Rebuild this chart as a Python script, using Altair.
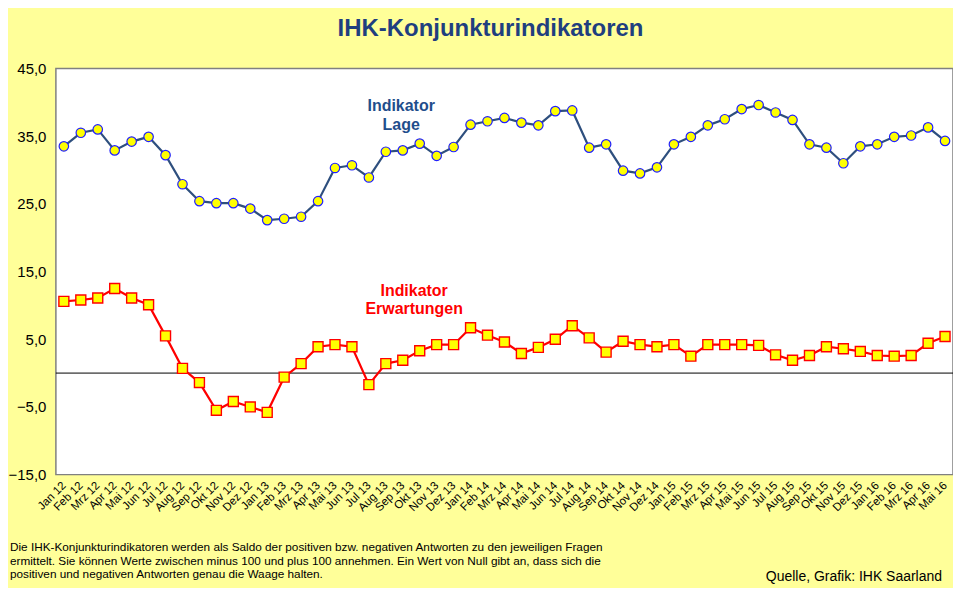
import altair as alt
import pandas as pd

months = ["Jan 12","Feb 12","Mrz 12","Apr 12","Mai 12","Jun 12","Jul 12","Aug 12","Sep 12","Okt 12","Nov 12","Dez 12",
          "Jan 13","Feb 13","Mrz 13","Apr 13","Mai 13","Jun 13","Jul 13","Aug 13","Sep 13","Okt 13","Nov 13","Dez 13",
          "Jan 14","Feb 14","Mrz 14","Apr 14","Mai 14","Jun 14","Jul 14","Aug 14","Sep 14","Okt 14","Nov 14","Dez 14",
          "Jan 15","Feb 15","Mrz 15","Apr 15","Mai 15","Jun 15","Jul 15","Aug 15","Sep 15","Okt 15","Nov 15","Dez 15",
          "Jan 16","Feb 16","Mrz 16","Apr 16","Mai 16"]

lage = [33.5, 35.5, 36.0, 32.9, 34.2, 34.9, 32.2, 27.9, 25.4, 25.1, 25.1, 24.3,
        22.6, 22.8, 23.1, 25.4, 30.3, 30.7, 28.9, 32.7, 32.9, 33.9, 32.1, 33.4,
        36.7, 37.2, 37.7, 37.0, 36.6, 38.7, 38.8, 33.3, 33.8, 29.9, 29.5, 30.4,
        33.8, 34.9, 36.6, 37.5, 39.0, 39.6, 38.5, 37.4, 33.8, 33.3, 31.0, 33.5,
        33.8, 34.9, 35.1, 36.3, 34.3]

erwartungen = [10.6, 10.8, 11.1, 12.5, 11.1, 10.1, 5.5, 0.7, -1.4, -5.5, -4.2, -5.0,
               -5.8, -0.6, 1.4, 3.9, 4.2, 3.9, -1.7, 1.4, 1.9, 3.3, 4.2, 4.2,
               6.7, 5.6, 4.6, 2.9, 3.8, 5.0, 7.0, 5.2, 3.1, 4.7, 4.2, 3.9,
               4.2, 2.5, 4.2, 4.2, 4.2, 4.1, 2.7, 1.9, 2.6, 3.9, 3.6, 3.2,
               2.6, 2.5, 2.6, 4.4, 5.4]

y_ticks = [-15, -5, 5, 15, 25, 35, 45]

title_text = "IHK-Konjunkturindikatoren"
lage_label = ["Indikator", "Lage"]
erw_label = ["Indikator", "Erwartungen"]
footnote = ["Die IHK-Konjunkturindikatoren werden als Saldo der positiven bzw. negativen Antworten zu den jeweiligen Fragen",
            "ermittelt. Sie können Werte zwischen minus 100 und plus 100 annehmen. Ein Wert von Null gibt an, dass sich die",
            "positiven und negativen Antworten genau die Waage halten."]
source_text = "Quelle, Grafik: IHK  Saarland"

FONT = "Liberation Sans"
df_lage = pd.DataFrame({"Monat": months, "Wert": lage})
df_erw = pd.DataFrame({"Monat": months, "Wert": erwartungen})

x_enc = alt.X("Monat:N", sort=months,
              scale=alt.Scale(type="point", padding=0.47),
              axis=alt.Axis(title=None, labelAngle=-45, labelAlign="right", labelBaseline="middle",
                            ticks=False, domain=False, labelFontSize=11.5, labelPadding=9,
                            labelOverlap=False, labelColor="black", labelFont=FONT))
y_enc = alt.Y("Wert:Q", scale=alt.Scale(domain=[-15, 45], nice=False, zero=False),
              axis=alt.Axis(title=None, values=y_ticks, grid=False, ticks=False, domain=False,
                            labelFontSize=15, labelPadding=10, labelColor="black", labelFont=FONT,
                            labelExpr="replace(format(datum.value, '.1f'), '.', ',')"))

zero = alt.Chart(pd.DataFrame({"Wert": [0]})).mark_rule(color="black", strokeWidth=1).encode(y=alt.Y("Wert:Q"))

lage_line = alt.Chart(df_lage).mark_line(color="#2E4F7E", strokeWidth=2.2).encode(x=x_enc, y=y_enc)
lage_pts = alt.Chart(df_lage).mark_point(shape="circle", filled=True, fill="#FFFF00", stroke="#1F1FFF",
                                         strokeWidth=1.2, size=90, opacity=1).encode(x=x_enc, y=y_enc)
erw_line = alt.Chart(df_erw).mark_line(color="#FF0000", strokeWidth=2.2).encode(x=x_enc, y=y_enc)
erw_pts = alt.Chart(df_erw).mark_square(fill="#FFFF00", stroke="#FF0000", strokeWidth=1.4,
                                        size=100, opacity=1).encode(x=x_enc, y=y_enc)


def text_layer(lines, x, y0, dy, size, color, bold=False, align="center"):
    d = pd.DataFrame({"t": lines, "i": list(range(len(lines)))})
    return alt.Chart(d).mark_text(font=FONT, fontSize=size, color=color,
                                  fontWeight="bold" if bold else "normal",
                                  align=align, baseline="middle").transform_calculate(
        yy=f"{y0} + datum.i * {dy}"
    ).encode(text="t:N", x=alt.value(x), y=alt.Y("yy:Q", scale=None))


title = text_layer([title_text], 435.5, -40, 0, 24, "#1F3F7F", bold=True)
lage_t = text_layer(lage_label, 346, 38, 19, 16, "#1F4E8C", bold=True)
erw_t = text_layer(erw_label, 359, 223, 18, 16, "#FF0000", bold=True)
foot = text_layer(footnote, -46, 480, 13.5, 11.8, "black", align="left")
src = text_layer([source_text], 888, 510, 0, 14, "black", align="right")

chart = alt.layer(zero, lage_line, lage_pts, erw_line, erw_pts, title, lage_t, erw_t, foot, src).properties(
    width=899, height=407,
    padding={"left": 48, "top": 60, "right": 0, "bottom": 113},
    autosize=alt.AutoSizeParams(type="none"),
    background="#FFFF99",
).configure_view(fill="white", stroke="#808080", strokeWidth=1.5)

chart.save("out.html", embed_options={"renderer": "svg", "actions": False})
